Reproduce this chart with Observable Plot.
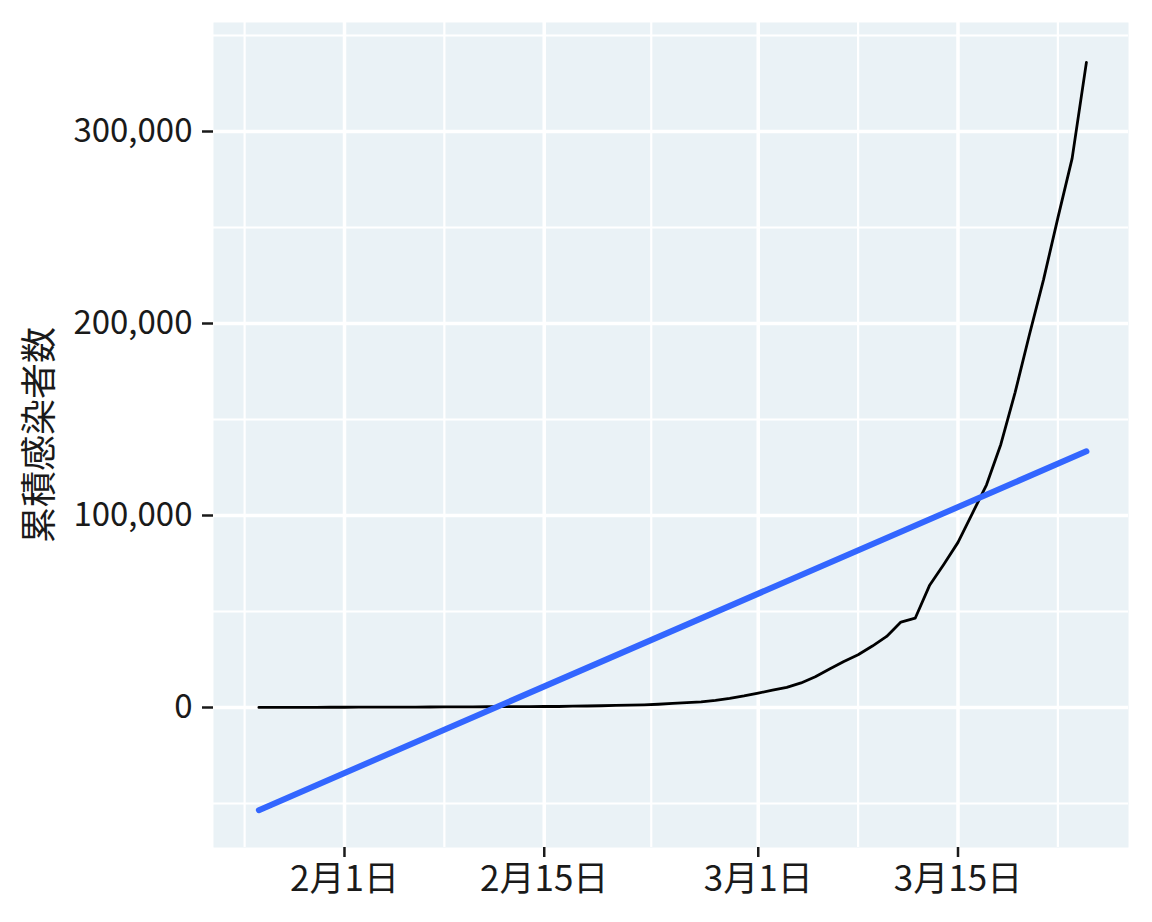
<!DOCTYPE html>
<html>
<head>
<meta charset="utf-8">
<script src="https://cdn.jsdelivr.net/npm/d3@7"></script>
<script src="https://cdn.jsdelivr.net/npm/@observablehq/plot@0.6"></script>
<style>
  html, body { margin: 0; padding: 0; background: #ffffff; }
  #chart { width: 1152px; height: 922px; }
</style>
</head>
<body>
<div id="chart"></div>
<script>
// Cumulative infections, one value per day from 2020-01-26
const startDate = "2020-01-26";
const cases = [
  40, 50, 70, 80, 100, 130,
  140, 150, 160, 190, 210, 230, 270, 290, 300, 320, 390, 440, 450, 500, 510, 530,
  690, 780, 900, 1070, 1200, 1400, 1700, 2100, 2500, 2900, 3700, 4700, 6000,
  7500, 9000, 10500, 12800, 16000, 20000, 24000, 27500, 32000, 37000, 44500, 46500,
  63500, 74500, 86000, 101000, 116000, 137000, 164000, 194000, 223000, 255000, 286000, 336000
];
const xTickLabels = ["2020-02-01", "2020-02-15", "2020-03-01", "2020-03-15"];
const xMinorTicks = ["2020-01-25", "2020-02-08", "2020-02-22T12:00Z", "2020-03-08", "2020-03-22"];
const yTickValues = [0, 100000, 200000, 300000];
const yMinorTicks = [-50000, 50000, 150000, 250000, 350000];
const yTitle = "累積感染者数";

const start = new Date(startDate);
const dates = cases.map((_, i) => new Date(start.getTime() + i * 86400000));
const data = cases.map((v, i) => ({date: dates[i], cases: v}));

const fmtDate = d => `${d.getUTCMonth() + 1}月${d.getUTCDate()}日`;
const toDate = s => new Date(s);

const chart = Plot.plot({
  width: 1152,
  height: 922,
  marginLeft: 213,
  marginRight: 24,
  marginTop: 22,
  marginBottom: 75,
  style: {fontFamily: "'Noto Sans CJK JP', 'Noto Sans', sans-serif", background: "#ffffff", color: "#1a1a1a"},
  x: {type: "utc", domain: [new Date("2020-01-22T19:40:00Z"), new Date("2020-03-26T22:48:00Z")]},
  y: {domain: [-72917, 356771]},
  marks: [
    Plot.frame({fill: "#EAF2F6", stroke: "none"}),
    Plot.gridX(xMinorTicks.map(toDate), {stroke: "#ffffff", strokeOpacity: 1, strokeWidth: 2.2}),
    Plot.gridY(yMinorTicks, {stroke: "#ffffff", strokeOpacity: 1, strokeWidth: 2.2}),
    Plot.gridX(xTickLabels.map(toDate), {stroke: "#ffffff", strokeOpacity: 1, strokeWidth: 3.5}),
    Plot.gridY(yTickValues, {stroke: "#ffffff", strokeOpacity: 1, strokeWidth: 3.5}),
    Plot.axisX(xTickLabels.map(toDate), {
      tickFormat: fmtDate, fontSize: 35, tickSize: 10, tickPadding: 9,
      strokeWidth: 2.5, color: "#1a1a1a", label: null
    }),
    Plot.axisY(yTickValues, {
      tickFormat: d3.format(","), fontSize: 33, tickSize: 11, tickPadding: 10,
      strokeWidth: 2.5, color: "#1a1a1a", label: null
    }),
    Plot.lineY(data, {x: "date", y: "cases", stroke: "#000000", strokeWidth: 2.8}),
    Plot.linearRegressionY(data, {x: "date", y: "cases", stroke: "#3366FF", strokeWidth: 6, ci: 0}),
    Plot.text([yTitle], {
      frameAnchor: "left", dx: -173, rotate: -90, fontSize: 36, fill: "#1a1a1a", textAnchor: "middle"
    })
  ]
});
document.getElementById("chart").appendChild(chart);
</script>
</body>
</html>
